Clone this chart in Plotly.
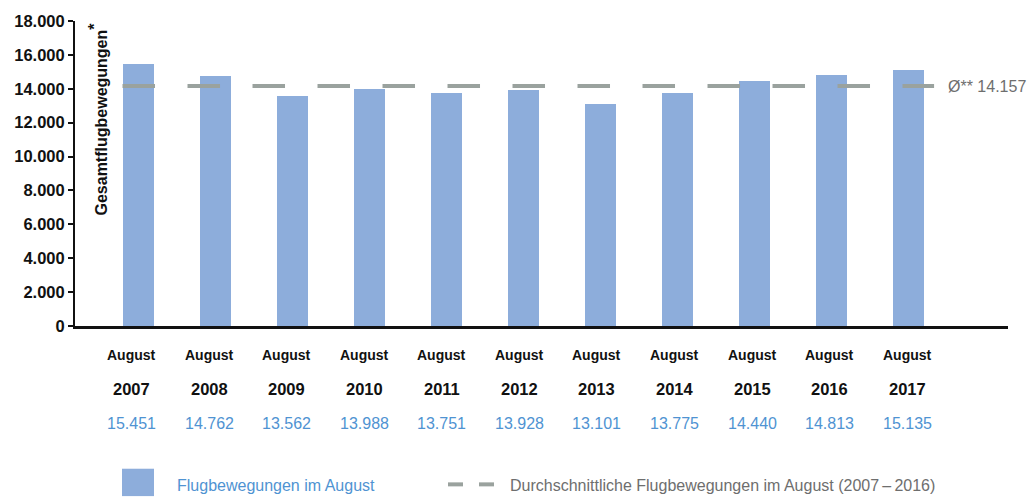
import plotly.graph_objects as go

years = ["2007", "2008", "2009", "2010", "2011", "2012", "2013", "2014", "2015", "2016", "2017"]
month_label = "August"
values = [15451, 14762, 13562, 13988, 13751, 13928, 13101, 13775, 14440, 14813, 15135]
average = 14157
y_ticks = [0, 2000, 4000, 6000, 8000, 10000, 12000, 14000, 16000, 18000]

BAR = "#8DADDB"
LINE = "#9AA29E"
BLUE_TXT = "#4F93D2"
GRAY_TXT = "#6E6E6E"
FONT = "Liberation Sans, Arial, sans-serif"

W, H = 1032, 499
L, R, T, B = 75, 24, 14, 173
PW, PH = W - L - R, H - T - B

def px(x):
    return (x - L) / PW

def py(y):
    return (H - B - y) / PH

xs = list(range(len(years)))

fig = go.Figure()
fig.add_trace(go.Bar(x=xs, y=values, width=0.4, marker=dict(color=BAR, line=dict(width=0)),
                     hoverinfo="skip", showlegend=False))
fig.add_trace(go.Scatter(x=[-0.21, 10.33], y=[average, average], mode="lines",
                         line=dict(color=LINE, width=4, dash="32.5px,32.5px"),
                         hoverinfo="skip", showlegend=False))

def fmt(v):
    return "{:,}".format(v).replace(",", ".")

ann = []
for i, (yr, v) in enumerate(zip(years, values)):
    xs_ = -7 + 0.55 * i
    ann.append(dict(x=i, y=py(356), xref="x", yref="paper", text="<b>%s</b>" % month_label, showarrow=False,
                    xshift=xs_, font=dict(family=FONT, size=14, color="#111"),
                    xanchor="center", yanchor="middle"))
    ann.append(dict(x=i, y=py(390), xref="x", yref="paper", text="<b>%s</b>" % yr, showarrow=False,
                    xshift=xs_, font=dict(family=FONT, size=16.5, color="#111"),
                    xanchor="center", yanchor="middle"))
    ann.append(dict(x=i, y=py(426), xref="x", yref="paper", text=fmt(v), showarrow=False,
                    xshift=xs_, font=dict(family=FONT, size=16, color=BLUE_TXT),
                    xanchor="center", yanchor="middle"))

ann.append(dict(x=px(946), y=average, xref="paper", yref="y", text="Ø** " + fmt(average),
                showarrow=False, font=dict(family=FONT, size=16, color=GRAY_TXT),
                xanchor="left", yanchor="middle"))
ann.append(dict(x=px(98), y=py(14), xref="paper", yref="paper",
                text="<b>Gesamtflugbewegungen<sup><span style='font-size:16px'>*</span></sup></b>",
                textangle=-90, showarrow=False,
                font=dict(family=FONT, size=16, color="#111"), xanchor="center", yanchor="top"))
ann.append(dict(x=px(175), y=py(489), xref="paper", yref="paper", text="Flugbewegungen im August",
                showarrow=False, font=dict(family=FONT, size=16, color=BLUE_TXT),
                xanchor="left", yanchor="middle"))
ann.append(dict(x=px(508), y=py(489), xref="paper", yref="paper",
                text="Durchschnittliche Flugbewegungen im August (2007\u2009\u2013\u20092016)",
                showarrow=False, font=dict(family=FONT, size=16, color=GRAY_TXT),
                xanchor="left", yanchor="middle"))

shapes = [
    dict(type="rect", xref="paper", yref="paper", x0=px(122), x1=px(154), y0=py(472), y1=py(500),
         fillcolor=BAR, line=dict(width=0)),
    dict(type="line", xref="paper", yref="paper", x0=px(448), x1=px(463), y0=py(488), y1=py(488),
         line=dict(color=LINE, width=4)),
    dict(type="line", xref="paper", yref="paper", x0=px(479), x1=px(494), y0=py(488), y1=py(488),
         line=dict(color=LINE, width=4)),
]

fig.update_layout(
    width=W, height=H, margin=dict(l=L, r=R, t=T, b=B, pad=0),
    paper_bgcolor="white", plot_bgcolor="white",
    separators=",.",
    font=dict(family=FONT, color="#111"),
    bargap=0,
    annotations=ann, shapes=shapes,
    xaxis=dict(range=[-0.827, 11.29], showticklabels=False, showgrid=False, zeroline=False,
               showline=True, linecolor="#111", linewidth=2.5, ticks=""),
    yaxis=dict(range=[0, 18000], tickvals=y_ticks, tickformat=",d", showgrid=False, zeroline=False,
               showline=True, linecolor="#111", linewidth=2, ticks="outside", ticklen=5,
               tickwidth=1.5, tickcolor="#111",
               tickfont=dict(family=FONT, size=16.5, color="#111", weight="bold")),
)

fig.write_html("out.html", config={"displayModeBar": False},
               post_script="document.body.style.margin='0';document.body.style.overflow='hidden';")
